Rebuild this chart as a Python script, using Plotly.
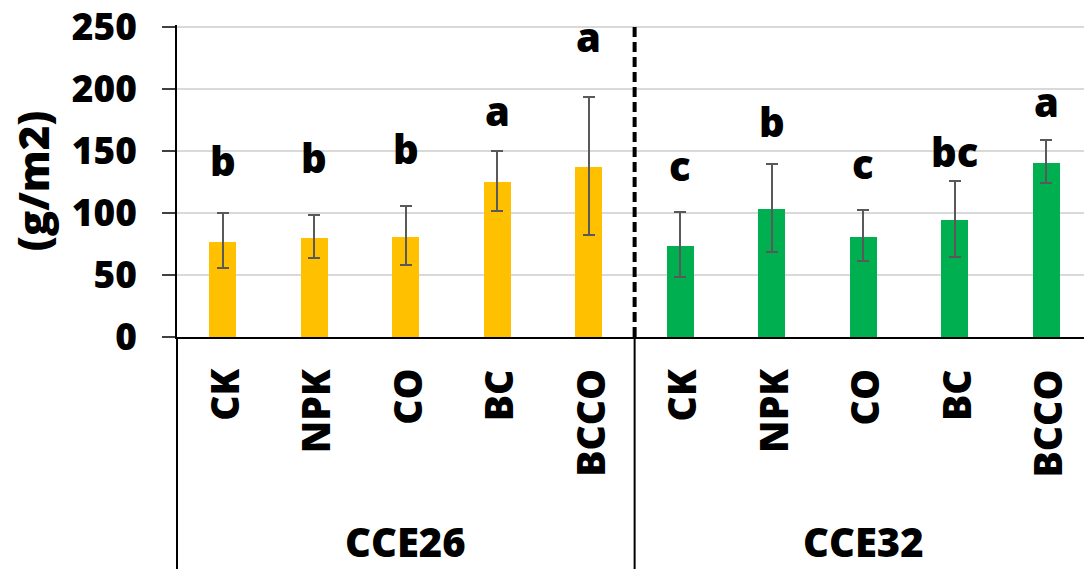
import plotly.graph_objects as go

# Treatments and sites
treatments = ["CK", "NPK", "CO", "BC", "BCCO"]
sites = ["CCE26", "CCE32"]

# Biomass means (g/m2) and error bar extents
cce26_mean = [76.7, 79.9, 80.7, 125.2, 137.1]
cce26_upper = [100.0, 98.5, 105.4, 149.6, 193.5]
cce26_lower = [55.4, 63.7, 58.3, 102.0, 82.3]

cce32_mean = [73.5, 103.0, 80.7, 94.0, 140.6]
cce32_upper = [100.6, 139.5, 102.2, 125.6, 159.2]
cce32_lower = [48.2, 68.4, 61.2, 64.7, 123.8]

# Significance letters and the baseline height they sit at
cce26_letters = ["b", "b", "b", "a", "a"]
cce26_letter_y = [128.6, 131.0, 138.2, 168.5, 228.4]
cce32_letters = ["c", "b", "c", "bc", "a"]
cce32_letter_y = [123.8, 159.7, 126.2, 135.8, 175.7]

y_ticks = [0, 50, 100, 150, 200, 250]

FONT = "Open Sans"
WEIGHT = 800
YELLOW = "#FFC000"
GREEN = "#00B050"
ERR = "#595959"

n = len(treatments)
x26 = list(range(n))
x32 = list(range(n, 2 * n))
x_range = [-0.5, 9.41]
y_range = [0, 251.6]


def err_arrays(mean, upper, lower):
    plus = [u - m for u, m in zip(upper, mean)]
    minus = [m - l for m, l in zip(mean, lower)]
    return plus, minus


fig = go.Figure()
for xs, mean, up, lo, color in [
    (x26, cce26_mean, cce26_upper, cce26_lower, YELLOW),
    (x32, cce32_mean, cce32_upper, cce32_lower, GREEN),
]:
    plus, minus = err_arrays(mean, up, lo)
    fig.add_trace(go.Bar(
        x=xs, y=mean, width=0.295,
        marker=dict(color=color, line=dict(width=0)),
        error_y=dict(type="data", symmetric=False, array=plus, arrayminus=minus,
                     color=ERR, thickness=2, width=6),
        showlegend=False,
    ))

annotations = []
# significance letters
for xs, letters, ly in [(x26, cce26_letters, cce26_letter_y), (x32, cce32_letters, cce32_letter_y)]:
    for x, t, y in zip(xs, letters, ly):
        annotations.append(dict(
            x=x, y=y, xref="x", yref="y", text=t, showarrow=False,
            yanchor="bottom", yshift=-12,
            font=dict(family=FONT, size=40, color="black", weight=WEIGHT),
        ))
# rotated treatment labels under each bar
for xs in (x26, x32):
    for x, t in zip(xs, treatments):
        annotations.append(dict(
            x=x, y=0, xref="x", yref="y", text=t, showarrow=False,
            textangle=-90, yanchor="top", yshift=-30,
            font=dict(family=FONT, size=39, color="black", weight=WEIGHT),
        ))
# site group labels
for xs, s in zip((x26, x32), sites):
    annotations.append(dict(
        x=sum(xs) / len(xs), y=0, xref="x", yref="y", text=s, showarrow=False,
        yanchor="middle", yshift=-204,
        font=dict(family=FONT, size=40, color="black", weight=WEIGHT),
    ))

span = x_range[1] - x_range[0]
sep_paper = (n - 0.5 - x_range[0]) / span

shapes = [
    # dashed divider between sites
    dict(type="line", xref="x", yref="y", x0=n - 0.5, x1=n - 0.5, y0=0, y1=y_range[1],
         line=dict(color="black", width=4, dash="10px,5px")),
    # group separators in the label area
    dict(type="line", xref="paper", yref="paper", x0=0, x1=0, y0=0, y1=-0.75,
         line=dict(color="black", width=2)),
    dict(type="line", xref="paper", yref="paper", x0=sep_paper, x1=sep_paper, y0=0, y1=-0.75,
         line=dict(color="black", width=2)),
]

fig.update_layout(
    width=1084, height=569,
    margin=dict(l=177, r=0, t=22, b=232),
    paper_bgcolor="white", plot_bgcolor="white",
    annotations=annotations, shapes=shapes,
    bargap=0,
)
fig.update_xaxes(
    range=x_range, showticklabels=False, ticks="", showgrid=False, zeroline=False,
    showline=True, linecolor="black", linewidth=1.5,
)
fig.update_yaxes(
    range=y_range, tickvals=y_ticks, ticks="outside", ticklen=13, tickwidth=1.5,
    tickcolor="#404040", showline=True, linecolor="black", linewidth=1.5,
    showgrid=True, gridcolor="#d9d9d9", gridwidth=1.5, zeroline=False,
    ticklabelstandoff=18, ticklabeloverflow="allow",
    tickfont=dict(family=FONT, size=37, color="black", weight=WEIGHT),
    title=dict(text="(g/m2)", standoff=9,
               font=dict(family=FONT, size=42, color="black", weight=WEIGHT)),
)

fig.write_html("out.html")
